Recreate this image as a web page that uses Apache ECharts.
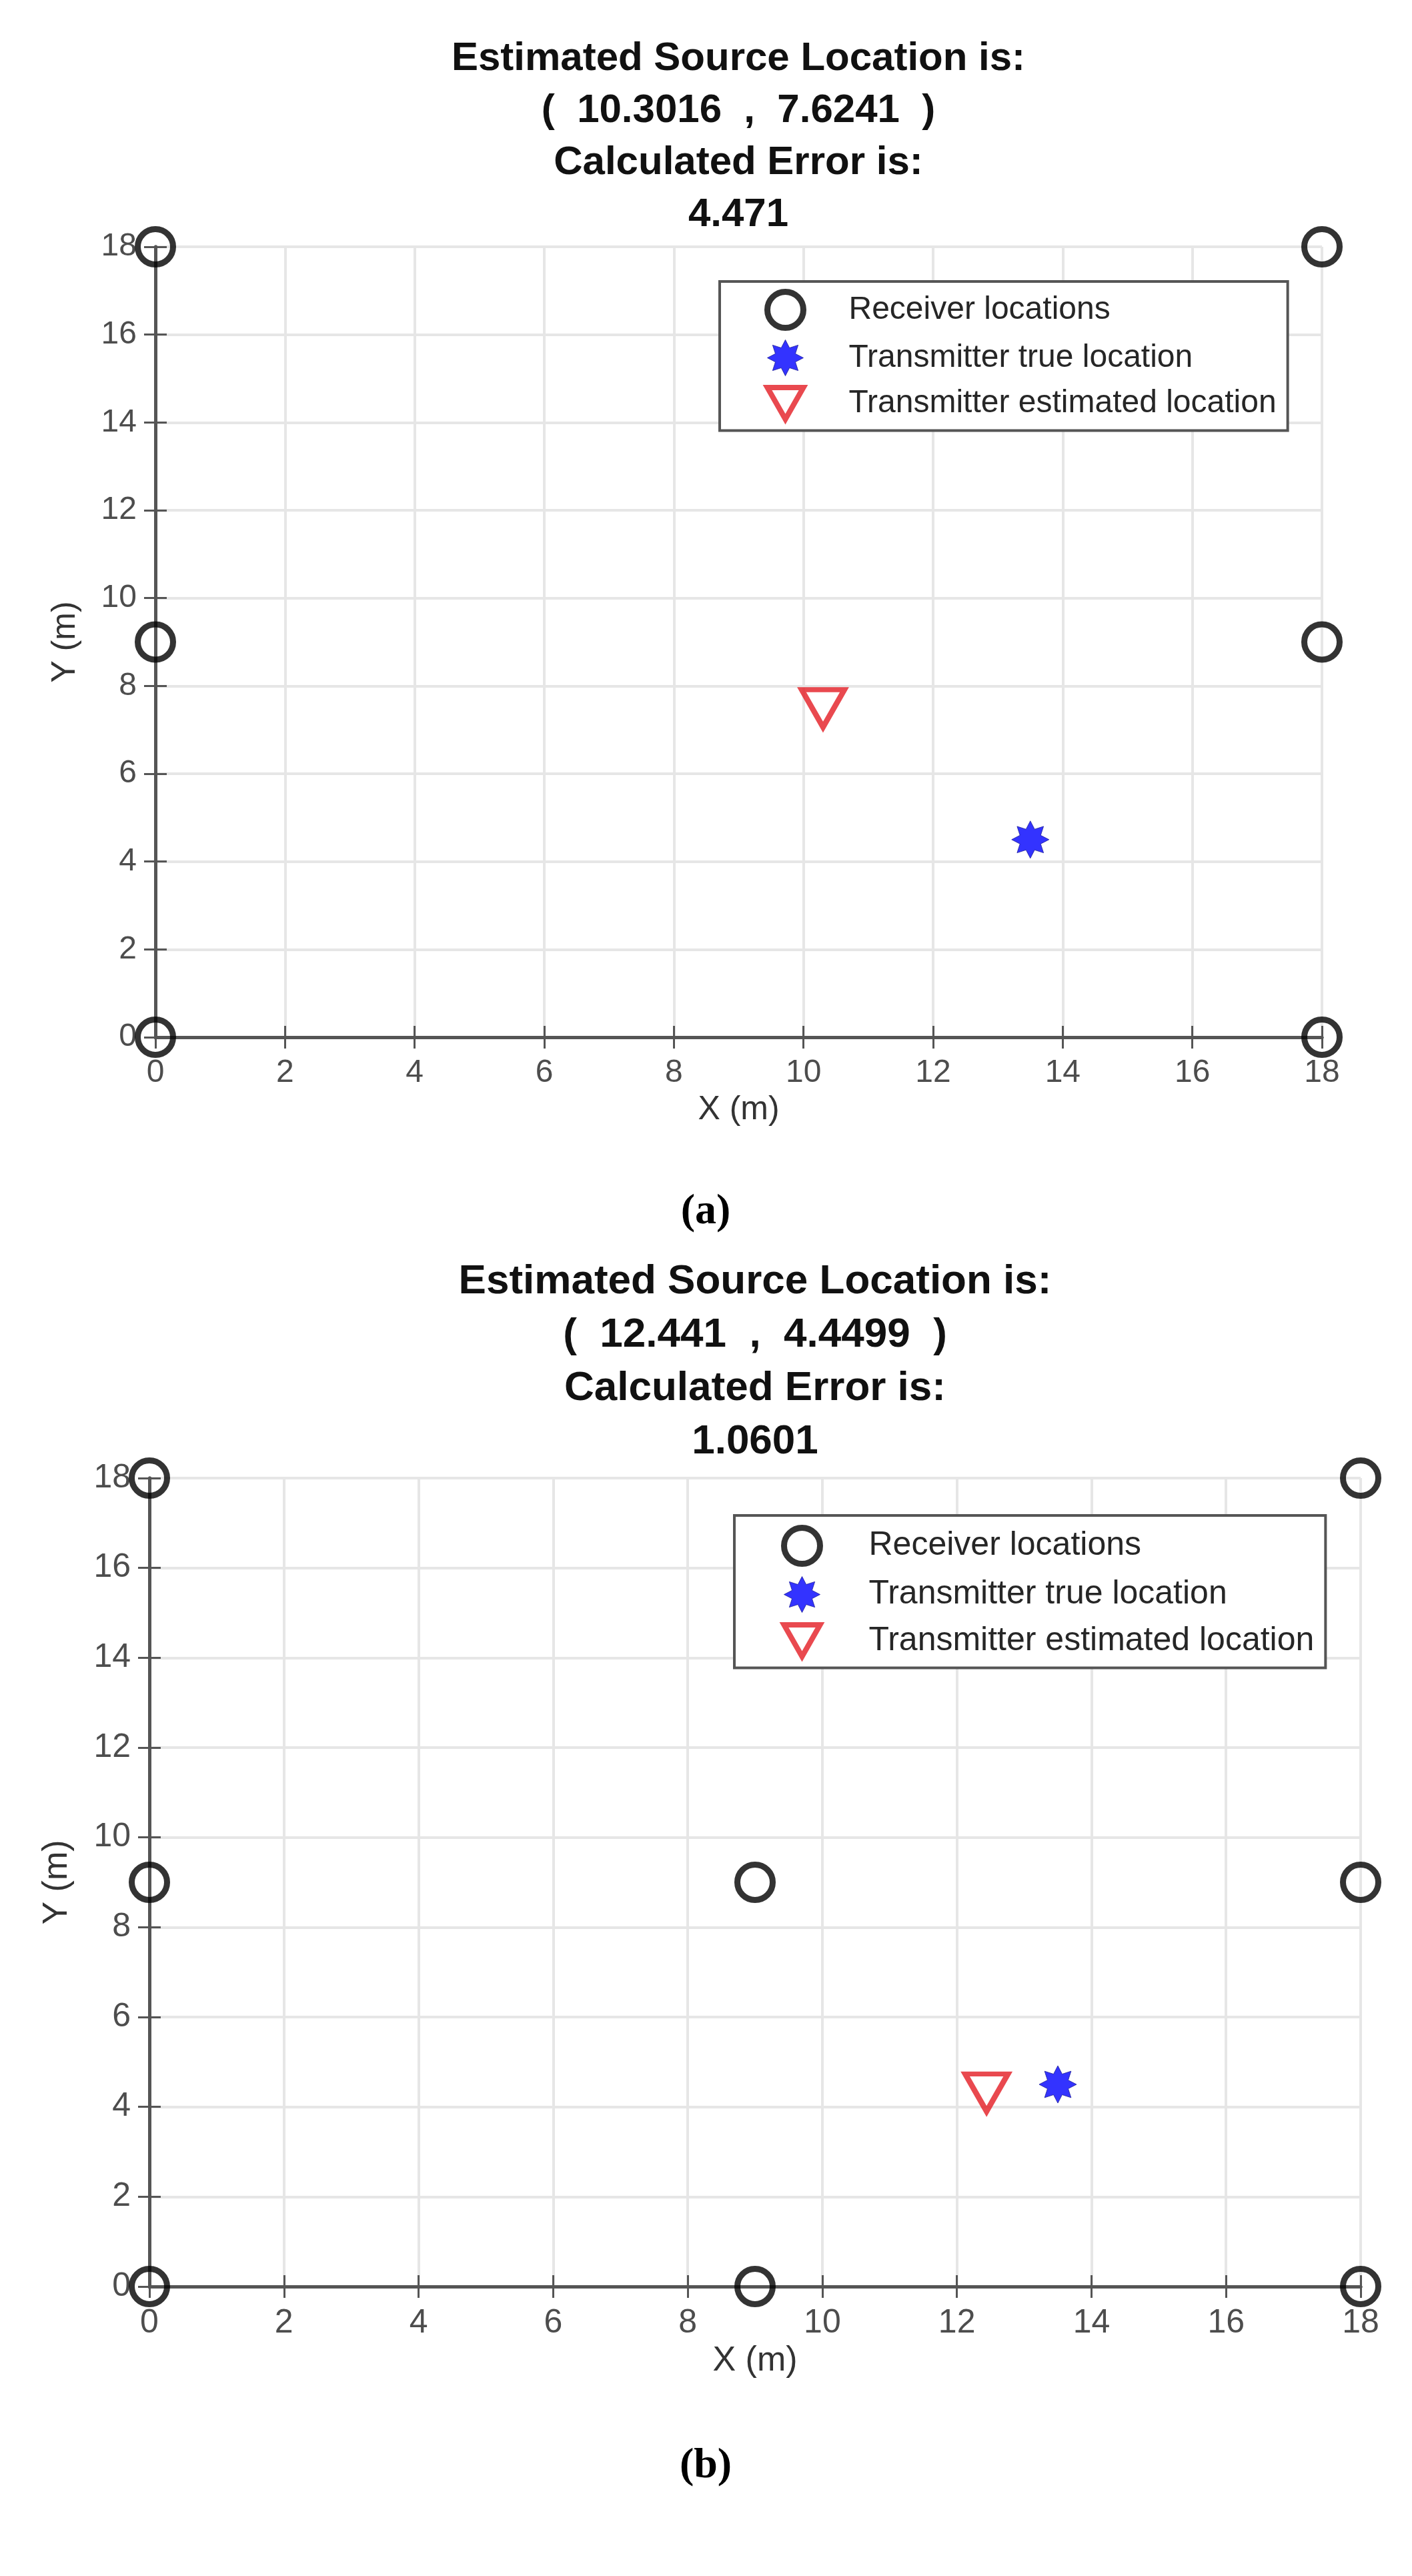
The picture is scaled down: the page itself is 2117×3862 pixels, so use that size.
<!DOCTYPE html>
<html>
<head>
<meta charset="utf-8">
<script src="https://cdn.jsdelivr.net/npm/echarts@6/dist/echarts.min.js"></script>
<style>
  html, body { margin: 0; padding: 0; background: #fff; }
  #main { width: 2117px; height: 3862px; }
</style>
</head>
<body>
<div id="main"></div>
<script>
// values
var receiversA = [[0, 0], [0, 9], [0, 18], [18, 0], [18, 9], [18, 18]];
var trueA = [[13.5, 4.5]];
var estA = [[10.3016, 7.6241]];
var errA = '4.471';

var receiversB = [[0, 0], [0, 9], [0, 18], [9, 0], [9, 9], [18, 0], [18, 9], [18, 18]];
var trueB = [[13.5, 4.5]];
var estB = [[12.441, 4.4499]];
var errB = '1.0601';

var legendNames = ['Receiver locations', 'Transmitter true location', 'Transmitter estimated location'];

// 8 spoke asterisk, like matlab's '*' marker drawn thick
var STAR = 'path://M50,0 L61.5,22.3 L85.4,14.6 L77.7,38.5 L100,50 L77.7,61.5 L85.4,85.4 L61.5,77.7 L50,100 L38.5,77.7 L14.6,85.4 L22.3,61.5 L0,50 L22.3,38.5 L14.6,14.6 L38.5,22.3 Z';
// downward triangle ('v' marker)
var TRI_DOWN = 'path://M0,0 L100,0 L50,88 Z';

var FONT = 'Liberation Sans';
var AXIS_COLOR = '#555';

function titleText(est, err) {
    return 'Estimated Source Location is:\n(  ' + est[0][0] + '  ,  ' + est[0][1] + '  )\nCalculated Error is:\n' + err;
}

function xAxes(grid, fs, nameGap) {
    return [{
        type: 'value', gridIndex: grid, position: 'bottom', min: 0, max: 18, interval: 2,
        name: 'X (m)', nameLocation: 'middle', nameGap: nameGap,
        nameTextStyle: {fontFamily: FONT, fontSize: fs + 2, color: '#333'},
        axisLine: {lineStyle: {color: AXIS_COLOR, width: 5}},
        axisTick: {inside: true, length: 17, lineStyle: {color: AXIS_COLOR, width: 3}},
        axisLabel: {fontFamily: FONT, fontSize: fs, color: '#4d4d4d', margin: 30},
        splitLine: {show: true, lineStyle: {color: '#e6e6e6', width: 4}}
    }, {
        type: 'value', gridIndex: grid, position: 'top', min: 0, max: 18, interval: 2,
        axisLine: {lineStyle: {color: AXIS_COLOR, width: 5}},
        axisTick: {inside: true, length: 17, lineStyle: {color: AXIS_COLOR, width: 3}},
        axisLabel: {show: false},
        splitLine: {show: false}
    }];
}

function yAxes(grid, fs, nameGap) {
    return [{
        type: 'value', gridIndex: grid, position: 'left', min: 0, max: 18, interval: 2,
        name: 'Y (m)', nameLocation: 'middle', nameGap: nameGap,
        nameTextStyle: {fontFamily: FONT, fontSize: fs + 2, color: '#333'},
        axisLine: {lineStyle: {color: AXIS_COLOR, width: 5}},
        axisTick: {inside: true, length: 17, lineStyle: {color: AXIS_COLOR, width: 3}},
        axisLabel: {fontFamily: FONT, fontSize: fs, color: '#4d4d4d', margin: 28},
        splitLine: {show: true, lineStyle: {color: '#e6e6e6', width: 4}}
    }, {
        type: 'value', gridIndex: grid, position: 'right', min: 0, max: 18, interval: 2,
        axisLine: {lineStyle: {color: AXIS_COLOR, width: 5}},
        axisTick: {inside: true, length: 17, lineStyle: {color: AXIS_COLOR, width: 3}},
        axisLabel: {show: false},
        splitLine: {show: false}
    }];
}

function panelSeries(ax, rec, tru, est) {
    return [{
        type: 'scatter', name: legendNames[0], xAxisIndex: ax, yAxisIndex: ax, data: rec, clip: false,
        symbol: 'circle', symbolSize: 53, z: 3,
        itemStyle: {color: 'rgba(0,0,0,0)', borderColor: '#000', borderWidth: 9}
    }, {
        type: 'scatter', name: legendNames[1], xAxisIndex: ax, yAxisIndex: ax, data: tru, clip: false,
        symbol: STAR, symbolSize: 56, z: 3,
        itemStyle: {color: '#0000ff', borderColor: '#1a1a9a', borderWidth: 1}
    }, {
        type: 'scatter', name: legendNames[2], xAxisIndex: ax, yAxisIndex: ax, data: est, clip: false,
        symbol: TRI_DOWN, symbolSize: [64, 56], symbolOffset: [0, 9], z: 3,
        itemStyle: {color: 'rgba(0,0,0,0)', borderColor: '#e31b23', borderWidth: 8}
    }];
}

function legendBox(left, top, fs, gap, pad, textPad) {
    return {
        left: left, top: top, orient: 'vertical', selectedMode: false,
        itemWidth: 54, itemHeight: 54, itemGap: gap, padding: pad,
        backgroundColor: '#fff', borderColor: '#555', borderWidth: 4,
        textStyle: {fontFamily: FONT, fontSize: fs, color: '#262626', padding: [0, 0, 0, textPad]},
        data: [
            {name: legendNames[0], itemStyle: {borderWidth: 9}},
            {name: legendNames[1], itemStyle: {borderWidth: 1}},
            {name: legendNames[2], itemStyle: {borderWidth: 8}}
        ]
    };
}

var panelLabelRich = {
    p: {fontFamily: 'Liberation Serif', fontSize: 64, color: '#000'},
    b: {fontFamily: 'Liberation Serif', fontSize: 64, fontWeight: 'bold', color: '#000'}
};

var myChart = echarts.init(document.getElementById('main'));
var option = {
    backgroundColor: '#fff',
    animation: false,
    title: [{
        text: titleText(estA, errA), left: 1107, top: 49, textAlign: 'center', padding: 0,
        textStyle: {fontFamily: FONT, fontWeight: 'bold', fontSize: 60, lineHeight: 78, color: '#111'}
    }, {
        text: titleText(estB, errB), left: 1132, top: 1882, textAlign: 'center', padding: 0,
        textStyle: {fontFamily: FONT, fontWeight: 'bold', fontSize: 62, lineHeight: 80, color: '#111'}
    }, {
        text: '{p|(}{b|a}{p|)}', left: 1058, top: 1785, textAlign: 'center', padding: 0,
        textStyle: {rich: panelLabelRich}
    }, {
        text: '{p|(}{b|b}{p|)}', left: 1058, top: 3665, textAlign: 'center', padding: 0,
        textStyle: {rich: panelLabelRich}
    }],
    legend: [
        legendBox(1079, 422, 48, 13, [11, 17, 13, 67], 63),
        legendBox(1101, 2272, 50, 14, [14, 17, 13, 70], 68)
    ],
    grid: [
        {left: 233, top: 370, width: 1749, height: 1185},
        {left: 224, top: 2216, width: 1816, height: 1212}
    ],
    xAxis: xAxes(0, 48, 84).concat(xAxes(1, 50, 86)),
    yAxis: yAxes(0, 48, 110).concat(yAxes(1, 50, 112)),
    series: panelSeries(0, receiversA, trueA, estA).concat(panelSeries(2, receiversB, trueB, estB))
};
myChart.setOption(option);
</script>
</body>
</html>
